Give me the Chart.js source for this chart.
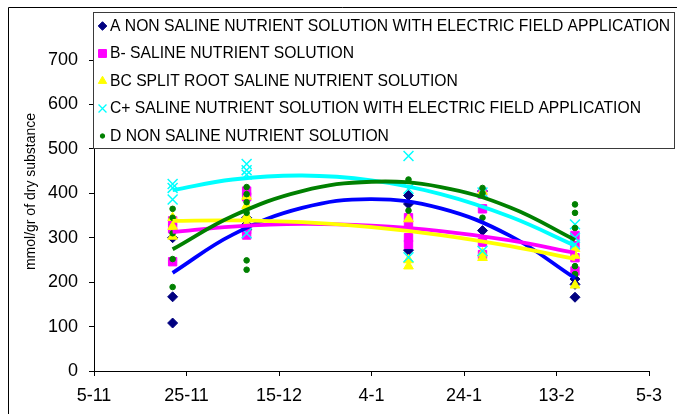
<!DOCTYPE html>
<html>
<head>
<meta charset="utf-8">
<script src="https://cdn.jsdelivr.net/npm/chart.js@4.4.1/dist/chart.umd.min.js"></script>
<style>
  html, body { margin: 0; padding: 0; background: #fff; }
  #c { display: block; }
</style>
</head>
<body>
<canvas id="c" width="677" height="414"></canvas>
<script>
// Sampling dates, counted in days from 5-11
const tickLabels = ['5-11', '25-11', '15-12', '4-1', '24-1', '13-2', '5-3'];
const sampleDays = [17, 33, 68, 84, 104];

const seriesNames = [
  'A NON SALINE NUTRIENT SOLUTION WITH ELECTRIC FIELD APPLICATION',
  'B- SALINE NUTRIENT SOLUTION',
  'BC SPLIT ROOT SALINE NUTRIENT SOLUTION',
  'C+ SALINE NUTRIENT SOLUTION WITH ELECTRIC FIELD APPLICATION',
  'D NON SALINE NUTRIENT SOLUTION'
];

// Replicate measurements (mmol/gr of dry substance), one list per sampling date
const valuesA = [[300, 167, 108], [345, 330, 318], [395, 376, 272], [405, 316], [207, 195, 166]];
const valuesB = [[338, 320, 246], [405, 392, 318, 306], [345, 330, 300, 285], [398, 365, 290, 262], [305, 282, 255, 225]];
const valuesBC = [[345, 325, 303], [393, 372, 348, 330], [342, 250, 236], [404, 265, 255], [275, 260, 193]];
const valuesCplus = [[421, 412, 386], [466, 452, 442, 310], [484, 410, 256], [402, 270], [330, 300, 285]];
const valuesD = [[365, 345, 310, 252, 189], [414, 398, 380, 356, 249, 228], [431, 361], [412, 400, 345], [375, 356, 322, 236, 218]];

// Second-order trend curves, read at these days
const trendDays = [17, 30, 45, 60, 75, 90, 104];
const trendA = [221, 307, 367, 387, 366, 304, 209];
const trendB = [313, 325, 331, 327, 315, 294, 266];
const trendBC = [338, 339, 335, 324, 306, 281, 252];
const trendCplus = [407, 431, 440, 429, 398, 347, 282];
const trendD = [274, 349, 405, 426, 414, 368, 295];

const FONT = '"Liberation Sans", Arial, sans-serif';

const markerStyles = [
  { pointStyle: 'rectRot',  color: '#000080', radius: 5,   legendRadius: 4.3, line: '#0000FF' },
  { pointStyle: 'rect',     color: '#FF00FF', radius: 5.9, legendRadius: 5.6, line: '#FF00FF' },
  { pointStyle: 'triangle', color: '#FFFF00', radius: 5.6, legendRadius: 4.8, line: '#FFFF00' },
  { pointStyle: 'crossRot', color: '#00FFFF', radius: 7,   legendRadius: 5.6, line: '#00FFFF' },
  { pointStyle: 'circle',   color: '#008000', radius: 2.8, legendRadius: 2.2, line: '#008000' }
];

const allValues = [valuesA, valuesB, valuesBC, valuesCplus, valuesD];
const allTrends = [trendA, trendB, trendBC, trendCplus, trendD];

function toPoints(groups) {
  const pts = [];
  groups.forEach((list, i) => list.forEach(v => pts.push({ x: sampleDays[i], y: v })));
  return pts;
}

const datasets = [];
allValues.forEach((groups, i) => {
  const s = markerStyles[i];
  datasets.push({
    type: 'scatter',
    label: seriesNames[i],
    data: toPoints(groups),
    pointStyle: s.pointStyle,
    pointRadius: s.radius,
    pointHoverRadius: s.radius,
    backgroundColor: s.color,
    borderColor: s.color,
    pointBorderWidth: s.pointStyle === 'crossRot' ? 1.5 : 1,
    showLine: false,
    order: 10 - i
  });
});
allTrends.forEach((trend, i) => {
  datasets.push({
    type: 'line',
    label: 'Poly. (' + seriesNames[i] + ')',
    data: trend.map((v, k) => ({ x: trendDays[k], y: v })),
    borderColor: markerStyles[i].line,
    borderWidth: 3.8,
    pointRadius: 0,
    fill: false,
    tension: 0.4,
    order: 5 - i
  });
});

// Outer frame, the key box and the vertical axis title
const decorations = {
  id: 'decorations',
  afterDraw(chart) {
    const ctx = chart.ctx;
    ctx.save();
    ctx.strokeStyle = '#000';
    ctx.lineWidth = 1;
    ctx.beginPath();
    ctx.moveTo(8.5, 414);
    ctx.lineTo(8.5, 7.5);
    ctx.lineTo(677, 7.5);
    ctx.stroke();

    // key
    const bx = 93.5, by = 12.5, bw = 581, bh = 136;
    ctx.fillStyle = '#fff';
    ctx.fillRect(bx, by, bw, bh);
    ctx.strokeStyle = '#3a3a3a';
    ctx.strokeRect(bx, by, bw, bh);
    ctx.font = '15.7px ' + FONT;
    ctx.textAlign = 'left';
    ctx.textBaseline = 'middle';
    seriesNames.forEach((name, i) => {
      const y = 26 + i * 27.5;
      const s = markerStyles[i];
      ctx.fillStyle = s.color;
      ctx.strokeStyle = s.color;
      ctx.lineWidth = s.pointStyle === 'crossRot' ? 1.3 : 1;
      Chart.helpers.drawPoint(ctx, { pointStyle: s.pointStyle, radius: s.legendRadius, borderWidth: 1, rotation: 0 }, 102.5, y);
      ctx.fillStyle = '#000';
      ctx.fillText(name, 110, y + 0.5);
    });

    // axis title
    ctx.translate(31, 191.5);
    ctx.rotate(-Math.PI / 2);
    ctx.font = '14px ' + FONT;
    ctx.textAlign = 'center';
    ctx.fillStyle = '#000';
    ctx.fillText('mmol/gr of dry substance', 0, 0);
    ctx.restore();
  }
};

new Chart(document.getElementById('c'), {
  data: { datasets },
  options: {
    responsive: false,
    animation: false,
    devicePixelRatio: 1,
    layout: { padding: { left: 0, right: 28, top: 60, bottom: 0 } },
    plugins: { legend: { display: false }, tooltip: { enabled: false } },
    scales: {
      x: {
        type: 'linear',
        min: 0,
        max: 120,
        afterFit(scale) { scale.height = 43; },
        ticks: {
          stepSize: 20,
          autoSkip: false,
          maxRotation: 0,
          padding: 9,
          color: '#000',
          font: { family: FONT, size: 18 },
          callback: v => tickLabels[Math.round(v / 20)]
        },
        grid: { drawOnChartArea: false, drawTicks: true, tickLength: 5, color: '#000' },
        border: { display: true, color: '#000', width: 1 }
      },
      y: {
        min: 0,
        max: 700,
        afterFit(scale) { scale.width = 94; },
        ticks: {
          stepSize: 100,
          padding: 11,
          color: '#000',
          font: { family: FONT, size: 18 }
        },
        grid: { drawOnChartArea: false, drawTicks: true, tickLength: 5, color: '#000' },
        border: { display: true, color: '#000', width: 1 }
      }
    }
  },
  plugins: [decorations]
});
</script>
</body>
</html>
